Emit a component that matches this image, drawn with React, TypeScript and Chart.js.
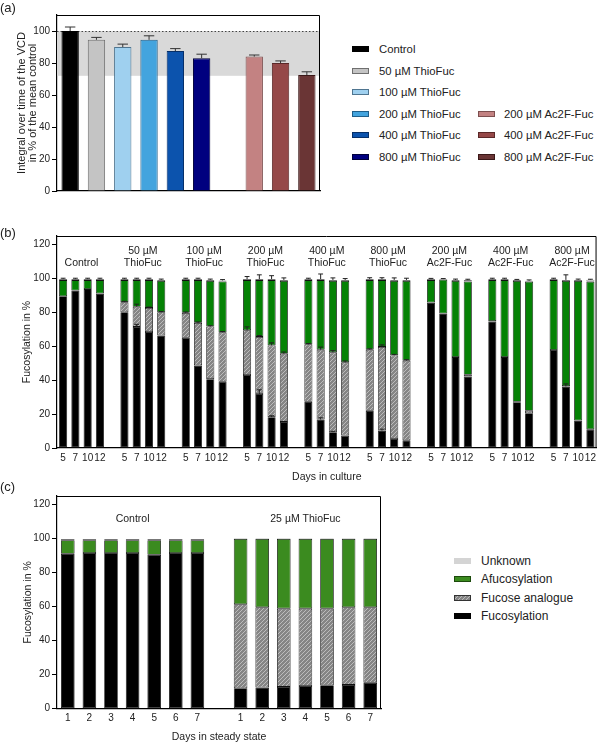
import React, { useEffect, useRef } from 'react';
import { Chart, registerables } from 'chart.js';

Chart.register(...registerables);

const FONT = "'Liberation Sans', Arial, Helvetica, sans-serif";
const TEXT = '#222';
Chart.defaults.font.family = FONT;

// ---------------- Panel (a) data ----------------
const aCategories = ['Control', '50 µM ThioFuc', '100 µM ThioFuc', '200 µM ThioFuc', '400 µM ThioFuc', '800 µM ThioFuc', '', '200 µM Ac2F-Fuc', '400 µM Ac2F-Fuc', '800 µM Ac2F-Fuc'];
const aValues = [100, 94.5, 90, 94.5, 87.5, 83, null, 84, 80, 72.5];
const aErrors = [2.5, 1.5, 1.8, 2.5, 1.5, 2.5, null, 1, 1.3, 2];
const aBandLow = 72;
const aBandHigh = 100;
const aYMax = 110;
const aYTitle = ['Integral over time of the VCD', 'in % of the mean control'];

// ---------------- Panel (b) data ----------------
const bGroups = [['Control'], ['50 µM', 'ThioFuc'], ['100 µM', 'ThioFuc'], ['200 µM', 'ThioFuc'], ['400 µM', 'ThioFuc'], ['800 µM', 'ThioFuc'], ['200 µM', 'Ac2F-Fuc'], ['400 µM', 'Ac2F-Fuc'], ['800 µM', 'Ac2F-Fuc']];
const bDays = ['5', '7', '10', '12'];
const bFucosylation = [
  89.5, 92.9, 93.7, 91.1,
  80.0, 71.4, 68.4, 66.3,
  65.0, 48.7, 40.6, 39.1,
  43.0, 31.8, 18.2, 15.4,
  27.2, 16.8, 9.3, 7.3,
  21.9, 10.3, 5.3, 4.5,
  85.8, 79.3, 53.6, 42.2,
  74.6, 53.6, 27.0, 20.5,
  57.8, 36.3, 16.2, 11.0,
];
const bAnalogue = [
  0, 0, 0, 0,
  6.0, 11.9, 14.2, 13.7,
  14.7, 25.1, 31.0, 29.1,
  26.4, 33.7, 42.3, 40.2,
  33.9, 41.2, 47.1, 43.2,
  36.1, 49.3, 49.3, 47.0,
  0, 0, 0, 1.0,
  0.3, 0, 0.3, 1.5,
  0, 0.3, 0, 0,
];
const bAfucosylation = [
  9.5, 6.1, 5.3, 7.9,
  13.0, 15.7, 16.4, 18.5,
  19.3, 25.2, 26.9, 30.0,
  29.6, 33.5, 38.5, 42.9,
  37.9, 41.0, 42.1, 48.0,
  41.0, 39.4, 43.9, 47.0,
  13.2, 19.9, 44.9, 55.0,
  24.1, 45.4, 71.2, 76.0,
  41.2, 61.9, 82.3, 87.0,
];
const bUnknown = [
  0.6, 0.6, 0.6, 0.6,
  0.6, 0.6, 0.6, 0.6,
  0.6, 0.6, 0.6, 0.6,
  0.6, 0.6, 0.6, 0.6,
  0.6, 0.6, 0.6, 0.6,
  0.6, 0.6, 0.6, 0.6,
  0.6, 0.4, 0.6, 0.8,
  0.6, 0.6, 0.6, 0.6,
  0.6, 0.6, 0.6, 1.2,
];
const bErrFucosylation = [
  0, 0, 0, 0,
  0, 1.5, 0, 0,
  0, 0, 0, 0,
  0, 2.5, 0.8, 0,
  0, 1.0, 0.5, 0,
  0, 0.8, 0, 0,
  0, 0, 0, 0,
  0, 0, 0, 0,
  0, 1.5, 0, 0,
];
const bErrAnalogue = [
  0, 0, 0, 0,
  0.5, 1.5, 0.5, 0.5,
  0.5, 0.5, 0.5, 0.5,
  2.0, 0.8, 1.5, 1.0,
  0.5, 1.5, 1.0, 0.8,
  0.5, 1.2, 0.6, 0.6,
  0, 0, 0, 0,
  0, 0, 0, 0,
  0, 0, 0, 0,
];
const bErrTotal = [
  0.5, 0.5, 0.5, 0.5,
  0.5, 0.5, 0.5, 0.5,
  0.5, 0.5, 0.5, 0.5,
  1.5, 2.5, 2.0, 1.2,
  0.5, 3.0, 1.2, 0.8,
  0.8, 0.8, 1.2, 1.0,
  0.4, 0.3, 0.5, 0.5,
  0.5, 0.5, 0.3, 0.5,
  0.5, 3.0, 0.5, 0.3,
];
const bYMax = 125;

// ---------------- Panel (c) data ----------------
const cGroups = [['Control'], ['25 µM ThioFuc']];
const cDays = ['1', '2', '3', '4', '5', '6', '7'];
const cFucosylation = [91.0, 91.5, 91.5, 91.5, 90.5, 91.5, 91.5, 12.0, 12.5, 12.8, 13.3, 13.8, 14.0, 15.2];
const cAnalogue = [0, 0, 0, 0, 0, 0, 0, 49.4, 47.1, 46.0, 45.5, 45.0, 45.6, 44.4];
const cAfucosylation = [8.0, 7.5, 7.5, 7.5, 8.5, 7.5, 7.5, 38.4, 40.2, 41.0, 41.0, 41.0, 40.2, 40.2];
const cUnknown = [0.7, 0.7, 0.7, 0.7, 0.7, 0.7, 0.7, 0.2, 0.2, 0.2, 0.2, 0.2, 0.2, 0.2];
const cYMax = 125;

const seriesNames = ['Fucosylation', 'Fucose analogue', 'Afucosylation', 'Unknown'];

// ---------------- styles ----------------
const aFill = ['#000000', '#c4c4c4', '#9fd0ef', '#43a4de', '#0c53ad', '#00007f', 'rgba(0,0,0,0)', '#c38282', '#954848', '#6a3535'];
const aBorder = ['#000000', '#6f6f6f', '#4f7590', '#1f5f8a', '#062f68', '#00003a', '#000000', '#7d4f4f', '#5a2828', '#3a1818'];
const bGreen = '#058205';
const cGreen = '#3b8b1f';
const unknownGrey = '#d4d4d4';

function makeHatch(): CanvasPattern | string {
  const c = document.createElement('canvas');
  const s = 4;
  c.width = s; c.height = s;
  const g = c.getContext('2d');
  if (!g) return '#999';
  g.fillStyle = '#858585';
  g.fillRect(0, 0, s, s);
  g.strokeStyle = '#bcbcbc';
  g.lineWidth = 1;
  g.beginPath();
  g.moveTo(-1, s + 1); g.lineTo(s + 1, -1);
  g.moveTo(-1, 1); g.lineTo(1, -1);
  g.moveTo(s - 1, s + 1); g.lineTo(s + 1, s - 1);
  g.stroke();
  return g.createPattern(c, 'repeat') || '#999';
}

function withGaps(values: number[], size: number): (number | null)[] {
  const out: (number | null)[] = [];
  values.forEach((v, i) => {
    if (i > 0 && i % size === 0) out.push(null);
    out.push(v);
  });
  return out;
}

function gapLabels(groupCount: number, days: string[]): string[] {
  const out: string[] = [];
  for (let g = 0; g < groupCount; g++) {
    if (g > 0) out.push('');
    out.push(...days);
  }
  return out;
}

// ---------------- plugins ----------------
const errorBarPlugin = {
  id: 'errorBars',
  afterDatasetsDraw(chart: any) {
    const ctx = chart.ctx;
    const y = chart.scales.y;
    chart.data.datasets.forEach((ds: any, di: number) => {
      const errs = ds.errorBars;
      if (!errs) return;
      const meta = chart.getDatasetMeta(di);
      meta.data.forEach((el: any, i: number) => {
        const e = errs[i];
        const v = ds.data[i];
        if (!e || v == null) return;
        const topVal = y.getValueForPixel(el.y);
        const ye = y.getPixelForValue(topVal + e);
        const half = el.width * (ds.capRatio || 0.3);
        ctx.save();
        ctx.strokeStyle = ds.errorColor || '#222';
        ctx.lineWidth = 1;
        ctx.beginPath();
        ctx.moveTo(el.x, el.y);
        ctx.lineTo(el.x, ye);
        ctx.moveTo(el.x - half, ye);
        ctx.lineTo(el.x + half, ye);
        ctx.stroke();
        ctx.restore();
      });
    });
  },
};

const boxPlugin = {
  id: 'box',
  afterDraw(chart: any) {
    const { ctx, chartArea: a } = chart;
    ctx.save();
    ctx.strokeStyle = '#000';
    ctx.lineWidth = 1;
    ctx.beginPath();
    ctx.moveTo(a.left, a.top + 0.5);
    ctx.lineTo(a.right - 0.5, a.top + 0.5);
    ctx.lineTo(a.right - 0.5, a.bottom);
    ctx.stroke();
    ctx.restore();
  },
};

const bandPlugin = {
  id: 'band',
  beforeDatasetsDraw(chart: any) {
    const { ctx, chartArea: a } = chart;
    const y = chart.scales.y;
    const top = y.getPixelForValue(aBandHigh);
    const bot = y.getPixelForValue(aBandLow);
    ctx.save();
    ctx.fillStyle = '#d9d9d9';
    ctx.fillRect(a.left, top, a.right - a.left, bot - top);
    ctx.strokeStyle = '#444';
    ctx.lineWidth = 1;
    ctx.setLineDash([1.5, 2]);
    ctx.beginPath();
    ctx.moveTo(a.left, Math.round(top) + 0.5);
    ctx.lineTo(a.right, Math.round(top) + 0.5);
    ctx.stroke();
    ctx.restore();
  },
};

function makeGroupLabels(id: string, groups: string[][], perGroup: number, lineYs: number[], fontSize: number) {
  return {
    id,
    afterDatasetsDraw(chart: any) {
      const { ctx, chartArea } = chart;
      const x = chart.scales.x;
      ctx.save();
      ctx.font = `${fontSize}px ${FONT}`;
      ctx.fillStyle = TEXT;
      ctx.textAlign = 'center';
      ctx.textBaseline = 'middle';
      groups.forEach((lines, g) => {
        const start = g * (perGroup + 1);
        const end = start + perGroup - 1;
        const cx = (x.getPixelForValue(start) + x.getPixelForValue(end)) / 2;
        lines.forEach((line, li) => {
          const yy = chartArea.top + lineYs[lineYs.length - lines.length + li];
          ctx.fillText(line, cx, yy);
        });
      });
      ctx.restore();
    },
  };
}

function yAxis(max: number, title: string | string[], titlePad: number, titleSize: number) {
  return {
    min: 0,
    max,
    ticks: { stepSize: 20, includeBounds: false, font: { size: 10, family: FONT }, color: TEXT, padding: 2 },
    grid: { drawOnChartArea: false, drawTicks: true, tickLength: 5, color: '#000', lineWidth: 1 },
    border: { display: true, color: '#000', width: 1.2 },
    title: { display: true, text: title, color: TEXT, font: { size: titleSize, family: FONT, lineHeight: 1 }, padding: { top: titlePad, bottom: 0 } },
    afterFit: (s: any) => { s.width = 57; },
  };
}

function xAxis(height: number, title: string | null, tickPad: number, titlePad: number, stacked: boolean) {
  return {
    stacked,
    ticks: { display: title !== null, autoSkip: false, maxRotation: 0, minRotation: 0, font: { size: 10, family: FONT }, color: TEXT, padding: tickPad },
    grid: { display: false, drawTicks: false, tickLength: 0 },
    border: { display: true, color: '#000', width: 1.2 },
    title: title ? { display: true, text: title, color: TEXT, font: { size: 10.5, family: FONT, lineHeight: 1.2 }, padding: { top: 0, bottom: titlePad } } : { display: false },
    afterFit: (s: any) => { s.height = height; },
  };
}

function stackedDatasets(fuc: any[], ana: any[], afu: any[], unk: any[], green: string, hatch: any, errs: { fuc?: any[]; ana?: any[]; tot?: any[] }, barPct: number) {
  const common = { borderColor: '#111', borderWidth: 0.8, barPercentage: barPct, categoryPercentage: 1, borderSkipped: false };
  return [
    { ...common, label: seriesNames[0], data: fuc, backgroundColor: '#000', errorBars: errs.fuc },
    { ...common, label: seriesNames[1], data: ana, backgroundColor: hatch, errorBars: errs.ana },
    { ...common, label: seriesNames[2], data: afu, backgroundColor: green },
    { ...common, label: seriesNames[3], data: unk, backgroundColor: unknownGrey, borderColor: '#777', errorBars: errs.tot },
  ];
}

function ChartCanvas({ make, left, top, width, height }: { make: () => any; left: number; top: number; width: number; height: number }) {
  const ref = useRef<HTMLCanvasElement>(null);
  useEffect(() => {
    if (!ref.current) return;
    const chart = new Chart(ref.current, make());
    return () => chart.destroy();
  }, []);
  return <canvas ref={ref} width={width} height={height} style={{ position: 'absolute', left, top, width, height }} />;
}

function configA() {
  return {
    type: 'bar',
    data: {
      labels: aCategories,
      datasets: [{ data: aValues, backgroundColor: aFill, borderColor: aBorder, borderWidth: 1, barPercentage: 0.66, categoryPercentage: 1, errorBars: aErrors, capRatio: 0.3, errorColor: '#333' }],
    },
    options: {
      animation: false,
      responsive: false,
      layout: { padding: { top: 15, right: 10, bottom: 9, left: 0 } },
      plugins: { legend: { display: false }, tooltip: { enabled: false } },
      scales: {
        x: xAxis(0, null, 0, 0, false),
        y: yAxis(aYMax, aYTitle, 16, 11),
      },
    },
    plugins: [bandPlugin, errorBarPlugin, boxPlugin],
  };
}

function configB() {
  const hatch = makeHatch();
  const size = bDays.length;
  return {
    type: 'bar',
    data: {
      labels: gapLabels(bGroups.length, bDays),
      datasets: stackedDatasets(
        withGaps(bFucosylation, size), withGaps(bAnalogue, size), withGaps(bAfucosylation, size), withGaps(bUnknown, size),
        bGreen, hatch,
        { fuc: withGaps(bErrFucosylation, size), ana: withGaps(bErrAnalogue, size), tot: withGaps(bErrTotal, size) },
        0.66,
      ),
    },
    options: {
      animation: false,
      responsive: false,
      layout: { padding: { top: 36, right: 2, bottom: 0, left: 0 } },
      plugins: { legend: { display: false }, tooltip: { enabled: false } },
      scales: {
        x: xAxis(42, 'Days in culture', 4, 7, true),
        y: { ...yAxis(bYMax, 'Fucosylation in %', 22, 10.5), stacked: true },
      },
    },
    plugins: [errorBarPlugin, boxPlugin, makeGroupLabels('groupsB', bGroups, size, [15.3, 27], 10.5)],
  };
}

function configC() {
  const hatch = makeHatch();
  const size = cDays.length;
  return {
    type: 'bar',
    data: {
      labels: gapLabels(cGroups.length, cDays),
      datasets: stackedDatasets(
        withGaps(cFucosylation, size), withGaps(cAnalogue, size), withGaps(cAfucosylation, size), withGaps(cUnknown, size),
        cGreen, hatch, {}, 0.63,
      ),
    },
    options: {
      animation: false,
      responsive: false,
      layout: { padding: { top: 16, right: 9, bottom: 0, left: 0 } },
      plugins: { legend: { display: false }, tooltip: { enabled: false } },
      scales: {
        x: xAxis(35.3, 'Days in steady state', 4, 0.5, true),
        y: { ...yAxis(cYMax, 'Fucosylation in %', 23, 10.5), stacked: true },
      },
    },
    plugins: [boxPlugin, makeGroupLabels('groupsC', cGroups, size, [23.6], 10.5)],
  };
}

function Swatch({ fill, border, w = 17, h = 5 }: { fill: string; border: string | null; w?: number; h?: number }) {
  return (
    <span style={{ display: 'inline-block', width: w, height: h, background: fill, border: border ? `1px solid ${border}` : 'none', boxSizing: 'border-box' }} />
  );
}

function LegendRow({ x, y, textX, fill, border, label, size }: any) {
  return (
    <>
      <div style={{ position: 'absolute', left: x, top: y - 3, height: 6, lineHeight: 0 }}>
        <Swatch fill={fill} border={border} h={6} />
      </div>
      <div style={{ position: 'absolute', left: textX, top: y - 8, height: 16, lineHeight: '16px', fontSize: size, whiteSpace: 'nowrap', color: TEXT }}>{label}</div>
    </>
  );
}

const hatchCss = 'repeating-linear-gradient(135deg, #858585 0px, #858585 1.8px, #bcbcbc 1.8px, #bcbcbc 2.8px)';

export default function App() {
  const aRows = [49.3, 70.8, 92.3, 113.6, 135, 156.6];
  const col1 = [0, 1, 2, 3, 4, 5];
  const col2 = [7, 8, 9];
  const cLegend = [
    { label: seriesNames[3], fill: unknownGrey, border: null },
    { label: seriesNames[2], fill: cGreen, border: '#1c4a0c' },
    { label: seriesNames[1], fill: hatchCss, border: '#333' },
    { label: seriesNames[0], fill: '#000', border: '#000' },
  ];
  const cRows = [560.7, 579.3, 597.9, 616.4];
  return (
    <div style={{ position: 'absolute', left: 0, top: 0, width: 600, height: 744, background: '#fff', fontFamily: FONT, color: TEXT, overflow: 'hidden' }}>
      <ChartCanvas make={configA} left={0} top={0} width={330} height={200} />
      <ChartCanvas make={configB} left={0} top={200} width={600} height={290} />
      <ChartCanvas make={configC} left={0} top={480} width={390} height={264} />

      <div style={{ position: 'absolute', left: 0, top: 0, fontSize: 13, lineHeight: '16px' }}>(a)</div>
      <div style={{ position: 'absolute', left: 0, top: 225, fontSize: 13, lineHeight: '16px' }}>(b)</div>
      <div style={{ position: 'absolute', left: 0, top: 479, fontSize: 13, lineHeight: '16px' }}>(c)</div>

      {col1.map((idx, r) => (
        <LegendRow key={'a' + idx} x={352} y={aRows[r]} textX={379} fill={aFill[idx]} border={aBorder[idx]} label={aCategories[idx]} size={11.3} />
      ))}
      {col2.map((idx, r) => (
        <LegendRow key={'b' + idx} x={478} y={aRows[r + 3]} textX={504} fill={aFill[idx]} border={aBorder[idx]} label={aCategories[idx]} size={11.3} />
      ))}

      {cLegend.map((it, r) => (
        <LegendRow key={'c' + r} x={454} y={cRows[r]} textX={481} fill={it.fill} border={it.border} label={it.label} size={12} />
      ))}
    </div>
  );
}
